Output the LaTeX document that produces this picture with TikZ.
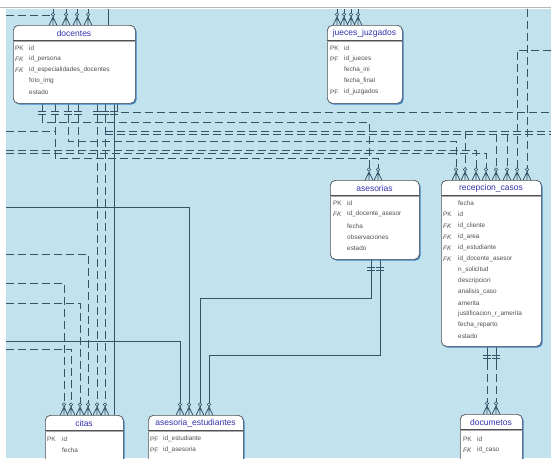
\documentclass[tikz,border=0pt]{standalone}
\usepackage{fontspec}
\setmainfont{Liberation Sans}
\definecolor{bgC}{RGB}{194,226,238}
\definecolor{lineC}{RGB}{55,82,102}
\definecolor{boxC}{RGB}{80,80,85}
\definecolor{shC}{RGB}{60,130,200}
\definecolor{ttlC}{RGB}{50,50,175}
\definecolor{fldC}{RGB}{80,80,85}
\tikzset{
 conn/.style={draw=lineC, line width=0.8pt},
 dconn/.style={conn, dash pattern=on 8pt off 4pt},
 entbody/.style={draw=boxC, fill=white, rounded corners=5pt, line width=0.7pt, inner sep=0pt, anchor=north west},
 ttl/.style={text=ttlC, font=\fontsize{8.5}{9}\selectfont, inner sep=0pt},
 fld/.style={text=fldC, font=\fontsize{6.4}{7}\selectfont, inner sep=0pt, anchor=west},
}
\newcommand\entbox[6]{%
 \fill[shC, rounded corners=5pt] (#2+1.6,#3+1.6) rectangle (#4+1.6,#5+1.6);
 \node[entbody, minimum width=#4-#2, minimum height=#5-#3] (#1) at (#2,#3) {};
 \node[ttl] (#1-title) at ({(#2+#4)/2},#3+8) {#6};
 \draw[boxC, line width=0.6pt] (#2,#3+15) -- (#4,#3+15);
 \draw[boxC!50, line width=0.5pt] (#2,#3+16.3) -- (#4,#3+16.3);
}
\newcommand\crowfoot[2]{%
 \draw[conn] (#1-3.8,#2) -- (#1,#2-8) -- (#1+3.8,#2) (#1,#2-8) -- (#1,#2);
 \draw[conn, fill=bgC, line width=0.6pt] (#1,#2-10.5) circle (1.7pt);
}
\newcommand\twobars[2]{\draw[conn] (#1-4,#2) -- (#1+4,#2) (#1-4,#2+3) -- (#1+4,#2+3);}
\newcommand\frow[6]{\node[fld] (#1k) at (#2,#4) {#5}; \node[fld] (#1f) at (#3,#4) {#6};}
\begin{document}
\begin{tikzpicture}[x=1pt,y=-1pt]
\useasboundingbox (0,0) rectangle (551,458);
\fill[white] (0,0) rectangle (551,458);
\draw[gray!55, line width=1.2pt] (0,7.5) -- (551,7.5);
\fill[bgC] (6,9) rectangle (551,458);
\begin{scope}
\clip (6,9) rectangle (551,458);
% ---- lines above docentes / jueces
\draw[dconn] (6,15) -- (53,15);
\foreach \x in {53,66,77,88} \draw[conn] (\x,9) -- (\x,17);
\draw[conn] (108,9) -- (108,25);
\foreach \x in {337,344,351,358} \draw[conn] (\x,9) -- (\x,17);
% ---- right verticals
\draw[dconn] (527,9) -- (527,172);
\draw[dconn] (551,50) -- (517,50) -- (517,172);
% ---- tracks from docentes
\draw[dconn] (42,103) -- (42,122) -- (369,122) -- (369,172);
\draw[dconn] (55,103) -- (55,158) -- (378,158) -- (378,172);
\draw[dconn] (6,131) -- (55,131);
\draw[dconn] (68,103) -- (68,141) -- (456,141) -- (456,172);
\draw[dconn] (78,103) -- (78,153) -- (486,153) -- (486,172);
\draw[dconn] (6,150) -- (476,150) -- (476,172);
\draw[dconn] (6,153) -- (78,153);
\draw[dconn] (105,131) -- (551,131);
\draw[dconn] (105,134) -- (551,134);
\draw[dconn] (465,131) -- (465,172);
\draw[dconn] (496,134) -- (496,172);
\draw[dconn] (507,134) -- (507,172);
\draw[dconn] (117,104) -- (117,112) -- (551,112);
\draw[dconn] (97,103) -- (97,407);
\draw[dconn] (105,103) -- (105,407);
\draw[conn] (114,103) -- (114,415);
\foreach \x in {42,55,68,78,97,105,114} \twobars{\x}{111};
% ---- lines to citas
\draw[dconn] (6,254) -- (88,254) -- (88,407);
\draw[dconn] (6,283) -- (64,283) -- (64,407);
\draw[dconn] (6,303) -- (80,303) -- (80,407);
\draw[dconn] (6,349) -- (71,349) -- (71,407);
% ---- solid lines to asesoria_estudiantes
\draw[conn] (6,207) -- (189,207) -- (189,407);
\draw[conn] (6,341) -- (180,341) -- (180,407);
\draw[conn] (371,259) -- (371,298) -- (200,298) -- (200,407);
\draw[conn] (380,259) -- (380,355) -- (209,355) -- (209,407);
\twobars{371}{267}\twobars{380}{267}
% ---- recepcion to documetos
\draw[conn] (487,346) -- (487,362); \draw[dconn] (487,362) -- (487,406);
\draw[conn] (496,346) -- (496,362); \draw[dconn] (496,362) -- (496,406);
\twobars{487}{355}\twobars{496}{355}
% ---- crow's feet
\foreach \x in {53,66,77,88,337,344,351,358} \crowfoot{\x}{25};
\foreach \x in {369,378,456,465,476,486,496,507,517,527} \crowfoot{\x}{180};
\foreach \x in {64,71,80,88,97,105,180,189,200,209} \crowfoot{\x}{415};
\foreach \x in {487,496} \crowfoot{\x}{414};
% ---- entities
\entbox{docentes}{13}{25}{135}{103}{docentes}
\frow{d1}{15}{29}{48}{PK}{id}
\frow{d2}{15}{29}{59}{\itshape FK}{id\_persona}
\frow{d3}{15}{29}{70}{\itshape FK}{id\_especialidades\_docentes}
\frow{d4}{15}{29}{81}{}{foto\_img}
\frow{d5}{15}{29}{92}{}{estado}
\entbox{jueces}{327}{25}{402}{103}{jueces\_juzgados}
\frow{j1}{330}{344}{48}{PK}{id}
\frow{j2}{330}{344}{59}{PF}{id\_jueces}
\frow{j3}{330}{344}{70}{}{fecha\_ini}
\frow{j4}{330}{344}{81}{}{fecha\_final}
\frow{j5}{330}{344}{92}{PF}{id\_juzgados}
\entbox{asesorias}{330}{180}{419}{259}{asesorias}
\frow{a1}{333}{347}{203}{PK}{id}
\frow{a2}{333}{347}{214}{\itshape FK}{id\_docente\_asesor}
\frow{a3}{333}{347}{226}{}{fecha}
\frow{a4}{333}{347}{237}{}{observaciones}
\frow{a5}{333}{347}{248}{}{estado}
\entbox{recepcion}{441}{180}{541}{346}{recepcion\_casos}
\frow{r1}{443}{458}{203}{}{fecha}
\frow{r2}{443}{458}{214}{PK}{id}
\frow{r3}{443}{458}{226}{\itshape FK}{id\_cliente}
\frow{r4}{443}{458}{237}{\itshape FK}{id\_area}
\frow{r5}{443}{458}{248}{\itshape FK}{id\_estudiante}
\frow{r6}{443}{458}{259}{\itshape FK}{id\_docente\_asesor}
\frow{r7}{443}{458}{270}{}{n\_solicitud}
\frow{r8}{443}{458}{281}{}{descripcion}
\frow{r9}{443}{458}{292}{}{analisis\_caso}
\frow{r10}{443}{458}{303}{}{amerita}
\frow{r11}{443}{458}{314}{}{justificacion\_r\_amerita}
\frow{r12}{443}{458}{325}{}{fecha\_reparto}
\frow{r13}{443}{458}{336}{}{estado}
\entbox{citas}{45}{415}{123}{475}{citas}
\frow{c1}{47}{62}{439}{PK}{id}
\frow{c2}{47}{62}{450}{}{fecha}
\entbox{asest}{148}{415}{243}{475}{asesoria\_estudiantes}
\frow{e1}{150}{163}{439}{PF}{id\_estudiante}
\frow{e2}{150}{163}{450}{PF}{id\_asesoria}
\entbox{documetos}{460}{414}{522}{475}{documetos}
\frow{o1}{463}{477}{439}{PK}{id}
\frow{o2}{463}{477}{450}{\itshape FK}{id\_caso}
\end{scope}
\end{tikzpicture}
\end{document}
